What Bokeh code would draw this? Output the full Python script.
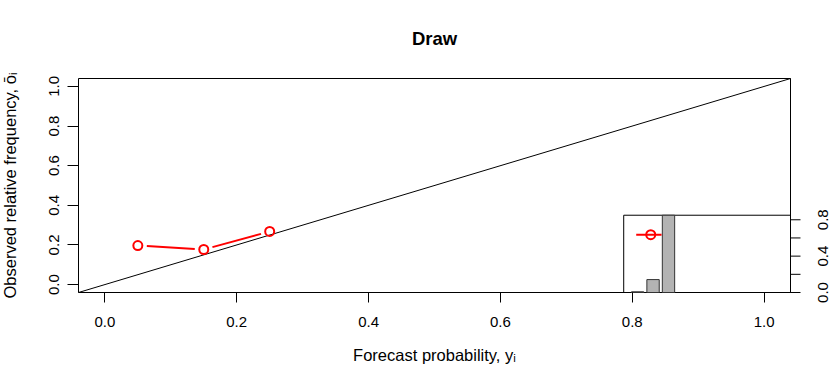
import math
from bokeh.plotting import figure
from bokeh.models import Range1d, LinearAxis, FixedTicker
from bokeh.core.properties import value
from bokeh.embed import file_html
from bokeh.resources import INLINE

# ---- data ----
forecast_bins = [0.05, 0.15, 0.25]          # forecast probability y_i
obs_freq = [0.197, 0.177, 0.268]            # observed relative frequency
bin_rel_freq = [0.008, 0.142, 0.850]        # inset histogram (relative frequency of use)
inset_pt_x = [0.135]
inset_pt_y = [0.636]
inset_pt_lo = [0.041]
inset_pt_hi = [0.205]
main_ticks = [0.0, 0.2, 0.4, 0.6, 0.8, 1.0]
inset_ticks = [0.0, 0.2, 0.4, 0.6, 0.8]
inset_tick_labels = ["0.0", "", "0.4", "", "0.8"]
title_text = "Draw"
x_label = "Forecast probability, yᵢ"
y_label = "Observed relative frequency, ōᵢ"

FONT = "Liberation Sans"
W, H = 830, 385
BOX_L, BOX_R, BOX_T, BOX_B = 78, 790, 78, 292   # R plot box, canvas px
LO, HI = -0.04, 1.04                             # R's 4% extended range

pxu = (BOX_R - BOX_L) / (HI - LO)
pyu = (BOX_B - BOX_T) / (HI - LO)
x_start = LO - BOX_L / pxu
x_end = HI + (W - BOX_R) / pxu
y_start = LO - (H - BOX_B) / pyu
y_end = HI + BOX_T / pyu

p = figure(width=W, height=H, output_backend="svg", toolbar_location=None, title=None,
           x_range=Range1d(x_start, x_end), y_range=Range1d(y_start, y_end),
           min_border_left=0, min_border_right=0,
           min_border_top=0, min_border_bottom=0,
           x_axis_type=None, y_axis_type=None)
p.grid.visible = False
p.outline_line_color = None
p.background_fill_color = "white"
p.border_fill_color = "white"

def style_axis(ax, ticks, labels):
    ax.ticker = FixedTicker(ticks=ticks)
    ax.major_label_overrides = {t: l for t, l in zip(ticks, labels)}
    ax.bounds = (LO, HI)
    ax.axis_line_color = None
    ax.major_tick_in = 0
    ax.minor_tick_line_color = None
    ax.major_tick_line_color = "black"
    ax.major_label_text_font = FONT
    ax.major_label_text_font_size = "15px"
    ax.major_label_text_color = "black"
    ax.axis_label_text_font = FONT
    ax.axis_label_text_font_size = "16.5px"
    ax.axis_label_text_font_style = "normal"
    ax.axis_label_text_color = "black"

main_labels = ["%.1f" % t for t in main_ticks]
xax = LinearAxis(axis_label=x_label, fixed_location=LO)
style_axis(xax, main_ticks, main_labels)
xax.major_tick_out = 10
xax.major_label_standoff = 14
xax.axis_label_standoff = 16
p.add_layout(xax, "below")

yax = LinearAxis(axis_label=y_label, fixed_location=LO)
style_axis(yax, main_ticks, main_labels)
yax.major_label_orientation = "parallel"
yax.major_tick_out = 11
yax.major_label_standoff = 8
yax.axis_label_standoff = 28
p.add_layout(yax, "left")

# plot box, title
p.quad(left=[LO], right=[HI], bottom=[LO], top=[HI], fill_color=None,
       line_color="black", line_width=1)
p.text(x=[(LO + HI) / 2], y=[HI + 40.0 / pyu], text=[title_text],
       text_font=value(FONT), text_font_size="18.5px", text_font_style="bold",
       text_color="black", text_align="center", text_baseline="middle")

# diagonal
p.line([LO, HI], [LO, HI], line_color="black", line_width=1)

# main reliability points with type="b" gaps
gap = 9.0
x0s, y0s, x1s, y1s = [], [], [], []
for i in range(len(forecast_bins) - 1):
    xa, ya = forecast_bins[i], obs_freq[i]
    xb, yb = forecast_bins[i + 1], obs_freq[i + 1]
    L = math.hypot((xb - xa) * pxu, (yb - ya) * pyu)
    t = gap / L
    x0s.append(xa + t * (xb - xa)); y0s.append(ya + t * (yb - ya))
    x1s.append(xb - t * (xb - xa)); y1s.append(yb - t * (yb - ya))
p.segment(x0s, y0s, x1s, y1s, line_color="#ff0000", line_width=2)
p.scatter(forecast_bins, obs_freq, marker="circle", size=9, fill_color=None,
          line_color="#ff0000", line_width=2)

# ---- inset coordinate system ----
inset_left_main = 0.787   # inset left edge, main-x units
inset_top_main = 0.350    # inset top edge, main-y units
ins_x0, ins_x1 = LO, HI
ins_top = max(bin_rel_freq)
sx = (ins_x1 - ins_x0) / (HI - inset_left_main)
sy = ins_top / (inset_top_main - LO)
fx = lambda m: ins_x0 + (m - inset_left_main) * sx
fy = lambda m: (m - LO) * sy
p.extra_x_ranges = {"inset": Range1d(fx(x_start), fx(x_end))}
p.extra_y_ranges = {"inset": Range1d(fy(y_start), fy(y_end))}

p.quad(left=[ins_x0], right=[ins_x1], bottom=[0], top=[ins_top],
       fill_color=None, line_color="black", line_width=1,
       x_range_name="inset", y_range_name="inset")
p.vbar(x=forecast_bins, width=0.08, top=bin_rel_freq, bottom=0,
       fill_color="#b3b3b3", line_color="#333333", line_width=1,
       x_range_name="inset", y_range_name="inset")
p.segment(inset_pt_lo, inset_pt_y, inset_pt_hi, inset_pt_y, line_color="#ff0000",
          line_width=2, x_range_name="inset", y_range_name="inset")
p.scatter(inset_pt_x, inset_pt_y, marker="circle", size=9, fill_color=None,
          line_color="#ff0000", line_width=2,
          x_range_name="inset", y_range_name="inset")

# inset axis on the right edge of the box (ticks + rotated labels)
n = len(inset_ticks)
p.segment([HI] * n, inset_ticks, [HI + 10.0 / pxu] * n, inset_ticks,
          line_color="black", line_width=1, y_range_name="inset")
lab_y = [t for t, l in zip(inset_ticks, inset_tick_labels) if l]
lab_t = [l for l in inset_tick_labels if l]
p.text(x=[HI + 32.0 / pxu] * len(lab_y), y=lab_y, text=lab_t, angle=math.pi / 2,
       text_font=value(FONT), text_font_size="15px", text_color="black",
       text_align="center", text_baseline="middle", y_range_name="inset")

open("out.html", "w").write(file_html(p, INLINE))
